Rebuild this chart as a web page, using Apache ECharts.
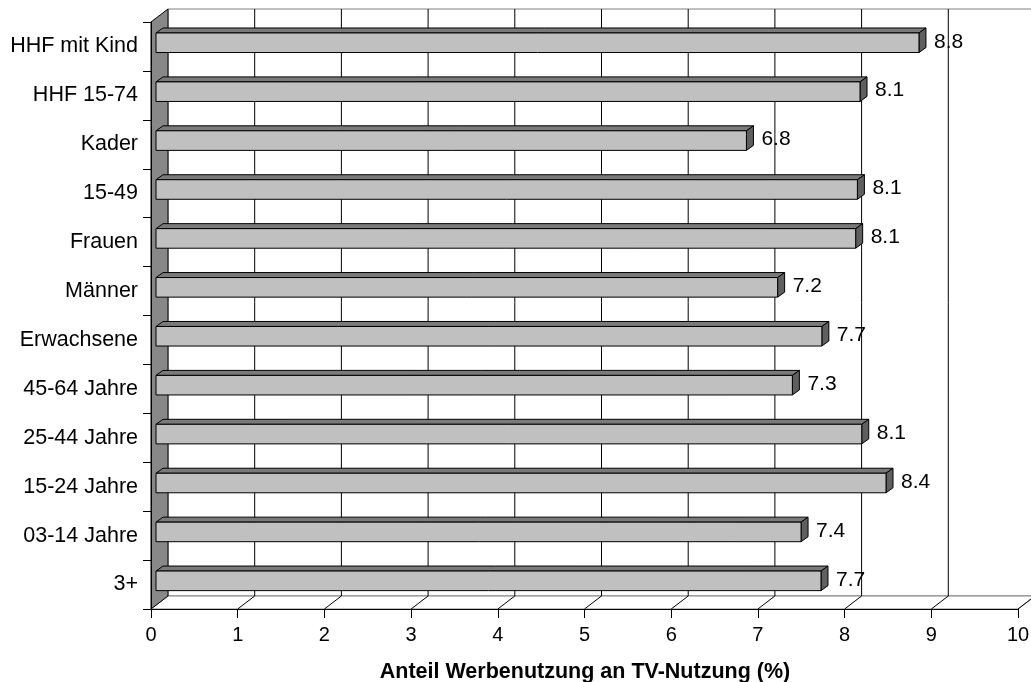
<!DOCTYPE html>
<html>
<head>
<meta charset="utf-8">
<script src="https://cdn.jsdelivr.net/npm/echarts@6/dist/echarts.min.js"></script>
<style>html,body{margin:0;padding:0;background:#fff}#c{width:1031px;height:682px}</style>
</head>
<body>
<div id="c"></div>
<script>
const categories = ['3+', '03-14 Jahre', '15-24 Jahre', '25-44 Jahre', '45-64 Jahre', 'Erwachsene', 'Männer', 'Frauen', '15-49', 'Kader', 'HHF 15-74', 'HHF mit Kind'];
const values = [7.67, 7.44, 8.42, 8.14, 7.34, 7.68, 7.17, 8.07, 8.09, 6.81, 8.12, 8.80];
const xTicks = [0, 1, 2, 3, 4, 5, 6, 7, 8, 9, 10];
const axisTitle = 'Anteil Werbenutzung an TV-Nutzung (%)';

const FONT = 'Liberation Sans, Arial, sans-serif';
const DX = 17, DY = 13;          // depth of the 3D frame
const BX0 = 5, BX1 = 12;         // bar depth range (x)
const BY0 = 3.7, BY1 = 8.7;      // bar depth range (y)

const chart = echarts.init(document.getElementById('c'), null, {renderer: 'canvas'});

function frameItem(params, api) {
  const cs = params.coordSys;
  const top = cs.y, bottom = cs.y + cs.height;
  const v = api.value(0);
  const x = api.coord([v, 0])[0];
  const children = [];
  if (params.dataIndex === 0) {
    const xEnd = api.coord([xTicks[xTicks.length - 1], 0])[0];
    children.push({type: 'polygon', z2: 0, shape: {points: [[x + DX, top - DY], [xEnd + DX, top - DY], [xEnd + DX, bottom - DY], [x + DX, bottom - DY]]},
      style: {fill: '#fff', stroke: '#808080', lineWidth: 1}});
    children.push({type: 'polygon', z2: 0, shape: {points: [[x, bottom], [xEnd, bottom], [xEnd + DX, bottom - DY], [x + DX, bottom - DY]]},
      style: {fill: '#fff', stroke: '#808080', lineWidth: 1}});
    children.push({type: 'polygon', z2: 2, shape: {points: [[x, top], [x + DX, top - DY], [x + DX, bottom - DY], [x, bottom]]},
      style: {fill: '#888888', stroke: '#000', lineWidth: 1}});
  } else {
    children.push({type: 'line', z2: 1, shape: {x1: x + DX, y1: top - DY, x2: x + DX, y2: bottom - DY}, style: {stroke: '#000', lineWidth: 1}});
    children.push({type: 'line', z2: 1, shape: {x1: x, y1: bottom, x2: x + DX, y2: bottom - DY}, style: {stroke: '#000', lineWidth: 1}});
  }
  return {type: 'group', children};
}

function barItem(params, api) {
  const val = api.value(0), idx = api.value(1);
  const p0 = api.coord([0, idx]);
  const p1 = api.coord([val, idx]);
  const band = api.size([0, 1])[1];
  const h = band * 0.2;
  const xa = p0[0] + BX0, xb = p1[0] + BX0;
  const yc = p0[1] - BY0;
  const t = yc - h, b = yc + h;
  const ddx = BX1 - BX0, ddy = BY1 - BY0;
  const line = {stroke: '#000', lineWidth: 1, lineJoin: 'miter'};
  return {type: 'group', children: [
    {type: 'polygon', shape: {points: [[xa, t], [xb, t], [xb + ddx, t - ddy], [xa + ddx, t - ddy]]}, style: Object.assign({fill: '#7a7a7a'}, line)},
    {type: 'polygon', shape: {points: [[xb, t], [xb + ddx, t - ddy], [xb + ddx, b - ddy], [xb, b]]}, style: Object.assign({fill: '#5f5f5f'}, line)},
    {type: 'rect', shape: {x: xa, y: t, width: xb - xa, height: b - t}, style: Object.assign({fill: '#c0c0c0'}, line)},
    {type: 'text', style: {text: val.toFixed(1), x: xb + ddx + 8, y: yc - 1, fill: '#000', font: '21px ' + FONT, textAlign: 'left', textVerticalAlign: 'middle'}}
  ]};
}

chart.setOption({
  animation: false,
  title: {
    text: axisTitle, left: 585, top: 661, textAlign: 'center', padding: 0,
    textStyle: {fontFamily: FONT, fontSize: 21.5, fontWeight: 'bold', color: '#000'}
  },
  grid: {left: 151, right: 13, top: 22, bottom: 73, containLabel: false, outerBoundsMode: 'none'},
  xAxis: {
    type: 'value', min: 0, max: 10, interval: 1, z: 3,
    axisLine: {show: true, lineStyle: {color: '#000', width: 1}},
    axisTick: {show: true, length: 9, lineStyle: {color: '#000'}},
    axisLabel: {fontFamily: FONT, fontSize: 20, color: '#000', margin: 16},
    splitLine: {show: false}
  },
  yAxis: {
    type: 'category', data: categories, z: 3,
    axisLine: {show: true, lineStyle: {color: '#000', width: 1}},
    axisTick: {show: true, length: 8, lineStyle: {color: '#000'}},
    axisLabel: {fontFamily: FONT, fontSize: 21.5, color: '#000', margin: 13},
    splitLine: {show: false}
  },
  series: [
    {type: 'custom', z: 1, silent: true, renderItem: frameItem, encode: {x: 0}, data: xTicks.map(v => [v, 0])},
    {type: 'custom', z: 2, silent: true, renderItem: barItem, encode: {x: 0, y: 1}, data: values.map((v, i) => [v, i])}
  ]
});
</script>
</body>
</html>
